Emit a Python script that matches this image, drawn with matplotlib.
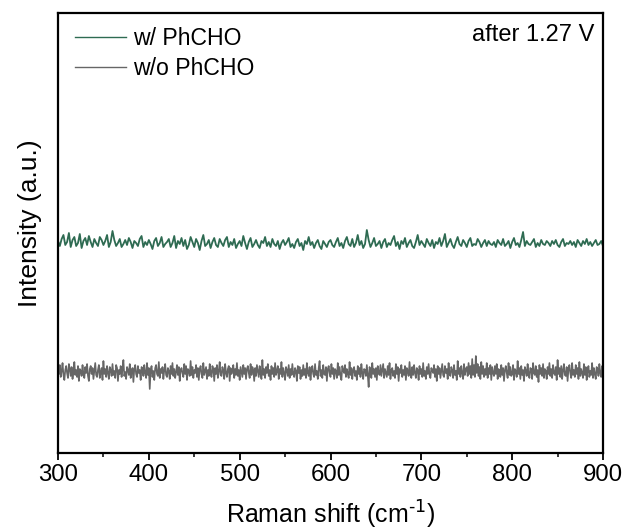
import numpy as np
import matplotlib
matplotlib.use("Agg")
import matplotlib.pyplot as plt
from matplotlib.ticker import MultipleLocator, NullLocator

plt.rcParams['font.family'] = ['Liberation Sans', 'DejaVu Sans']

# ---- data ----
x_start, x_end = 300, 900

# w/ PhCHO spectrum (offset intensities, a.u.), 2 cm-1 steps
with_phcho = [
    3, -2, 5, 9, -1, 2, 11, -3, 4, 7, -2, 1, 10, -4, 3, 6, -1, 8, 2, -3, 5, 1, -2, 7, 4, -1, 3, 9, -3, 2,
    13, 4, -2, 1, 5, -3, 0, 4, -1, 6, 2, -4, 3, 1, -2, 5, 8, -3, 2, -1, 4, 0, -5, 3, 6, -2, 1, 7, -3, 0,
    2, 5, -3, 1, 8, -4, 3, 0, 6, -2, 4, -5, -1, 7, 2, -3, 5, 1, -6, 3, 9, -2, 0, 4, -4, 2, 6, -1, -3, 5,
    1, -2, 4, 7, -3, 2, -1, 5, -4, 0, 3, -2, 8, 1, -5, 2, 6, -3, 0, 4, -1, -4, 3, 1, 7, -2, 2, -3, 5, 0,
    -2, 3, -5, 1, 4, -1, 2, 6, -3, 0, -4, 2, 5, -2, 1, -6, 3, 0, 7, -1, 2, -4, 1, 4, -2, -5, 3, 0, -3, 2,
    4, -1, -3, 2, 6, -2, 1, -4, 3, 7, 0, -2, 5, -3, 1, 9, -1, 3, -4, 0, 14, 4, -3, 1, 6, -2, 0, 3, -4, 2,
    5, -3, 1, -1, 4, 8, -2, 2, -5, 3, 0, 6, -3, 1, 4, -2, -4, 2, 9, -1, 3, 0, -3, 5, 1, -2, 4, -4, 2, 0,
    6, -2, 3, 10, -3, 1, 5, -1, -4, 2, 7, 0, -2, 4, 1, -3, 3, 6, -2, 0, -1, 5, 2, -3, 1, 4, -2, 3, 0, -1,
    2, -3, 4, 1, -1, 5, -2, 0, 3, -4, 2, 6, -1, 1, -3, 4, 12, -2, 3, 0, -1, 2, 5, -3, 1, -2, 4, 0, -1, 3,
    1, -2, 3, 0, 4, -1, -3, 2, 5, -2, 1, 0, 3, -1, 2, -3, 4, 1, -2, 3, 0, 5, -1, 2, -2, 1, 4, -1, 0, 3,
    -2,
]

# w/o PhCHO spectrum (offset intensities, a.u.), 1 cm-1 steps
without_phcho = [
    4, -2, 7, -5, 1, 9, -3, -8, 2, 6, -1, -6, 8, 3, -4, 5, -7, 0, 10, -3, 2, -5, 6, -9, 3, 1, -4, 7, -2, -6,
    5, -1, 8, -4, -9, 3, 6, -2, 4, -7, 1, 9, -3, -5, 2, 7, -6, 0, 4, -8, 11, -2, 3, -5, 6, -1, -7, 5, 2, -4,
    8, -3, 1, -6, 7, 4, -9, 2, -2, 6, -5, 3, 12, -4, 0, -7, 5, 2, -3, 8, -6, 1, 4, -10, 3, 7, -2, -5, 6, -1,
    2, -8, 5, 3, -4, 7, -1, -6, 9, -3, 4, -17, 2, 6, -5, 1, -8, 4, 7, -2, -4, 10, -6, 3, -1, 5, -7, 2, 8, -3,
    -5, 4, 1, -7, 6, -2, 9, -4, 3, -6, 0, 7, -3, 5, -9, 2, 4, -1, -5, 8, -2, 6, -8, 3, 1, -4, 11, -3, 5, -6,
    2, -1, 7, -5, 4, -8, 3, 6, -2, -6, 9, -3, 1, 5, -7, 2, -4, 8, -1, -5, 6, 3, -9, 4, -2, 7, -6, 1, 10, -3,
    -4, 5, 2, -7, 8, -1, -5, 3, 6, -9, 4, -2, 1, 7, -6, 3, -3, 9, -4, 2, -8, 5, 0, -5, 7, -2, 4, -7, 3, 6,
    -1, -6, 8, -3, 5, 2, -9, 4, -4, 7, 1, -5, 6, -2, -7, 12, -3, 3, -6, 5, -1, 8, -4, 2, -8, 6, -2, 4, -5, 9,
    -3, 1, 6, -7, 3, -2, 10, -5, 4, -1, -8, 5, 2, -4, 7, -6, 3, -3, 8, -2, -5, 4, 1, -9, 6, -1, 5, -7, 2, -4,
    7, -3, 3, -6, 9, -1, -4, 5, -8, 2, 6, -2, -5, 8, -3, 1, -7, 4, 11, -4, 2, -6, 7, -2, -3, 5, -9, 3, 6, -1,
    -5, 8, -2, 4, -7, 3, 1, -6, 9, -3, 5, -4, -8, 6, 2, -1, 7, -5, 3, -2, -6, 10, -3, 4, -7, 2, 5, -4, 1, -8,
    6, -2, 4, -5, 8, -1, -7, 3, 2, -4, 7, -3, -15, 5, 1, -6, 9, -2, 3, -5, 4, -8, 6, -1, -3, 7, -4, 2, 8, -6,
    3, -1, -5, 6, -3, 9, -7, 2, 4, -4, 1, -6, 8, -2, 5, -9, 3, -1, 7, -5, 2, -3, 6, -8, 4, 1, -4, 10, -2, -6,
    5, -3, 7, -1, -6, 4, 2, -8, 6, -2, 3, -5, 9, -4, 1, -7, 5, -2, 8, -3, -6, 4, 2, -1, 7, -5, 3, -9, 6, -2,
    4, -6, 1, 8, -3, -5, 6, -1, 3, -7, 9, -2, -4, 5, 2, -6, 7, -3, 1, -8, 11, -2, 4, -5, 6, -1, -7, 8, -3, 3,
    5, -4, 9, -2, 6, -6, 13, -3, 7, -5, 16, -1, 8, -4, 5, -7, 10, -2, 6, -5, 3, -3, 9, -6, 4, -2, 7, -8, 5, -1,
    -4, 6, -2, 8, -7, 3, 1, -5, 7, -3, 4, -9, 2, 6, -1, -6, 9, -3, 5, -4, -2, 7, -8, 3, 1, -5, 11, -2, 4, -7,
    6, -3, 2, -9, 5, 1, -4, 8, -2, -6, 4, 3, -7, 9, -1, -3, 6, -5, 2, -10, 7, -2, 4, -4, 8, -6, 3, 1, -7, 5,
    -2, 9, -4, 3, -6, 7, -1, -3, 5, -8, 12, -2, 4, -5, 6, -7, 2, 8, -3, -4, 5, -9, 3, 7, -1, -6, 9, -3, 2, -5,
    7, -2, 4, -7, 10, -4, 3, -1, -6, 8, -3, 5, -8, 2, 6, -5, 1, -3, 9, -6, 4, -2, -7, 5, 3, -4, 8, -1, -5, 6,
    2,
]

offset_with = 209
offset_without = 81
labels = ["w/ PhCHO", "w/o PhCHO"]
annotation = "after 1.27 V"

x_with = np.linspace(x_start, x_end, len(with_phcho))
x_without = np.linspace(x_start, x_end, len(without_phcho))

fig = plt.figure(figsize=(6.27, 5.31), dpi=100)
ax = fig.add_axes([58/627, 1-453/531, 545/627, 440/531])

c_green = "#2e6b52"
c_gray = "#666666"
ax.plot(x_with, np.array(with_phcho) + offset_with, color=c_green, lw=1.3, label=labels[0])
ax.plot(x_without, np.array(without_phcho) + offset_without, color=c_gray, lw=1.2, label=labels[1])

ax.set_xlim(x_start, x_end)
ax.set_ylim(0, 440)
ax.xaxis.set_major_locator(MultipleLocator(100))
ax.xaxis.set_minor_locator(MultipleLocator(50))
ax.yaxis.set_major_locator(NullLocator())
ax.tick_params(axis='x', which='major', direction='out', length=5, width=1.3, labelsize=17.3, pad=3, colors='black')
ax.tick_params(axis='x', which='minor', direction='out', length=3, width=1.1)
for s in ax.spines.values():
    s.set_linewidth(1.6)

ax.set_xlabel("Raman shift (cm$^{\\text{-1}}$)", fontsize=18, labelpad=9)
ax.set_ylabel("Intensity (a.u.)", fontsize=19)
ax.yaxis.set_label_coords(-0.03, 0.523)

leg = ax.legend(loc='upper left', bbox_to_anchor=(17/545, 1-14/440), frameon=False,
                borderpad=0, borderaxespad=0, handlelength=2.2, handletextpad=0.3,
                labelspacing=0.3, fontsize=16.6)
for l in leg.get_lines():
    l.set_linewidth(1.0)

ax.text(0.985, 0.975, annotation, transform=ax.transAxes, ha='right', va='top', fontsize=17)

fig.savefig("out.png", dpi=100)
